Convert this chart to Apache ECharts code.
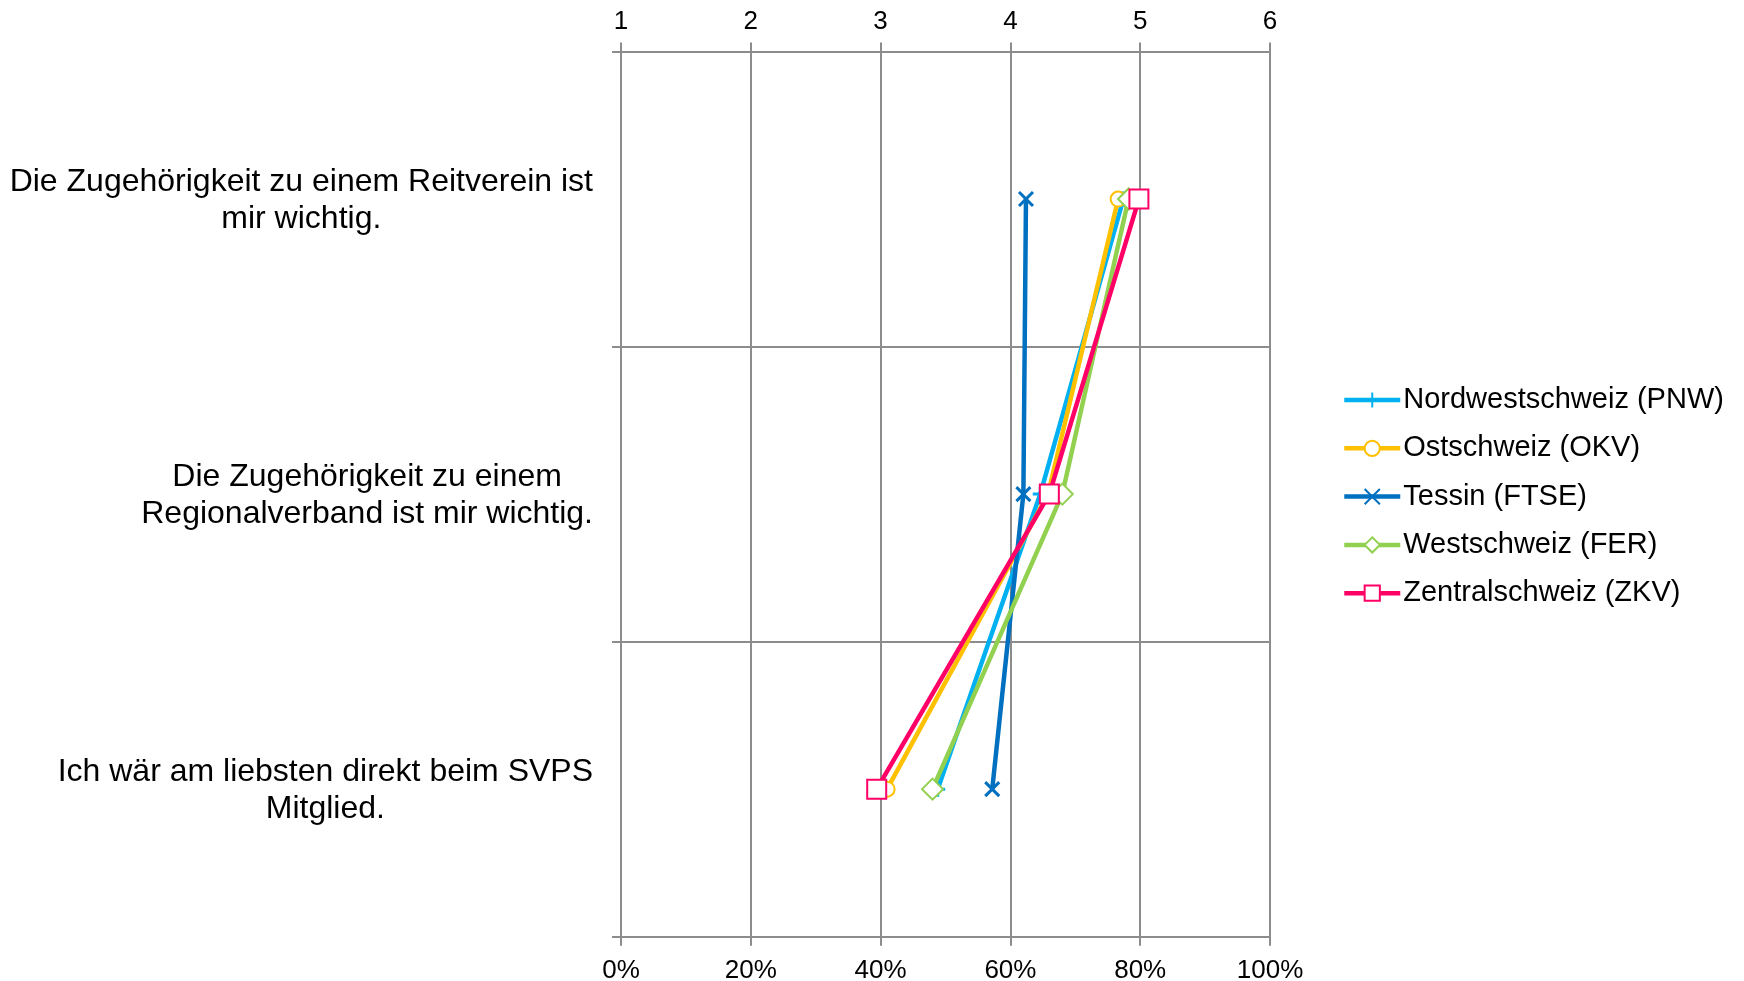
<!DOCTYPE html>
<html>
<head>
<meta charset="utf-8">
<script src="https://cdn.jsdelivr.net/npm/echarts@6/dist/echarts.min.js"></script>
<style>
html,body{margin:0;padding:0;background:#fff;}
#chart{width:1744px;height:981px;}
</style>
</head>
<body>
<div id="chart"></div>
<script>
const categories = [
  ['Die Zugehörigkeit zu einem Reitverein ist', 'mir wichtig.'],
  ['Die Zugehörigkeit zu einem', 'Regionalverband ist mir wichtig.'],
  ['Ich wär am liebsten direkt beim SVPS', 'Mitglied.']
];
const topTicks = [1, 2, 3, 4, 5, 6];
const bottomTicks = ['0%', '20%', '40%', '60%', '80%', '100%'];
const seriesNames = ['Nordwestschweiz (PNW)', 'Ostschweiz (OKV)', 'Tessin (FTSE)', 'Westschweiz (FER)', 'Zentralschweiz (ZKV)'];
const pnw = [4.87, 4.23, 3.44];
const okv = [4.83, 4.29, 3.05];
const ftse = [4.12, 4.10, 3.86];
const fer = [4.91, 4.40, 3.40];
const zkv = [4.99, 4.30, 2.97];

const seriesValues = [pnw, okv, ftse, fer, zkv];
const colors = ['#00B0F0', '#FFC000', '#0070C0', '#92D050', '#FF0066'];
const symbols = ['path://M5,0L5,10M0,5L10,5', 'emptyCircle', 'path://M0,0L10,10M10,0L0,10', 'emptyDiamond', 'emptyRect'];
const symbolSizes = [15, 15, 14, 21, 19];

const FONT = '"Liberation Sans", Arial, sans-serif';
const catLabels = categories.map(c => c.join('\n'));

const chart = echarts.init(document.getElementById('chart'), null, {renderer: 'canvas'});
const gridColor = '#8c8c8c';

const series = seriesNames.map((name, i) => ({
  name: name,
  type: 'line',
  xAxisIndex: 0,
  yAxisIndex: 0,
  data: seriesValues[i].map((v, j) => [v, catLabels[j]]),
  symbol: symbols[i],
  symbolSize: symbolSizes[i],
  lineStyle: {color: colors[i], width: 4.5},
  itemStyle: {color: colors[i], borderColor: colors[i], borderWidth: 3},
  emphasis: {disabled: true},
  z: 2 + i
}));

chart.setOption({
  animation: false,
  textStyle: {fontFamily: FONT},
  grid: {left: 621, right: 474, top: 51.5, bottom: 44.3, containLabel: false, outerBoundsMode: 'none'},
  legend: {
    orient: 'vertical',
    left: 1337,
    top: 380,
    itemWidth: 56,
    itemHeight: 19,
    itemGap: 18.3,
    lineStyle: {width: 4.5},
    textStyle: {fontSize: 29, lineHeight: 30, color: '#000', fontFamily: FONT, padding: [0, 0, 0, -2]},
    data: seriesNames
  },
  xAxis: [
    {
      type: 'value', position: 'top', min: topTicks[0], max: topTicks[topTicks.length - 1], interval: 1,
      axisLine: {show: true, lineStyle: {color: gridColor, width: 2}},
      axisTick: {show: true, inside: false, length: 9, lineStyle: {color: gridColor, width: 2}},
      splitLine: {show: true, lineStyle: {color: gridColor, width: 2}},
      axisLabel: {fontSize: 26, color: '#000', margin: 17, fontFamily: FONT}
    },
    {
      type: 'value', position: 'bottom', min: 0, max: 100, interval: 20,
      axisLine: {show: true, lineStyle: {color: gridColor, width: 2}},
      axisTick: {show: true, inside: false, length: 9, lineStyle: {color: gridColor, width: 2}},
      splitLine: {show: false},
      axisLabel: {fontSize: 26, color: '#000', margin: 21, fontFamily: FONT,
        formatter: v => bottomTicks[Math.round(v / 20)]}
    }
  ],
  yAxis: [{
    type: 'category', inverse: true, data: catLabels, boundaryGap: true,
    axisLine: {show: true, lineStyle: {color: gridColor, width: 2}},
    axisTick: {show: true, inside: false, length: 9, lineStyle: {color: gridColor, width: 2}},
    splitLine: {show: true, lineStyle: {color: gridColor, width: 2}},
    axisLabel: {
      margin: 28, color: '#000', fontSize: 32, fontFamily: FONT, lineHeight: 37,
      padding: [4, 0, 0, 0],
      formatter: v => v.split('\n').map(s => '{c|' + s + '}').join('\n'),
      rich: {c: {align: 'center', fontSize: 32, lineHeight: 37, fontFamily: FONT, color: '#000'}}
    }
  }],
  series: series
});
</script>
</body>
</html>
